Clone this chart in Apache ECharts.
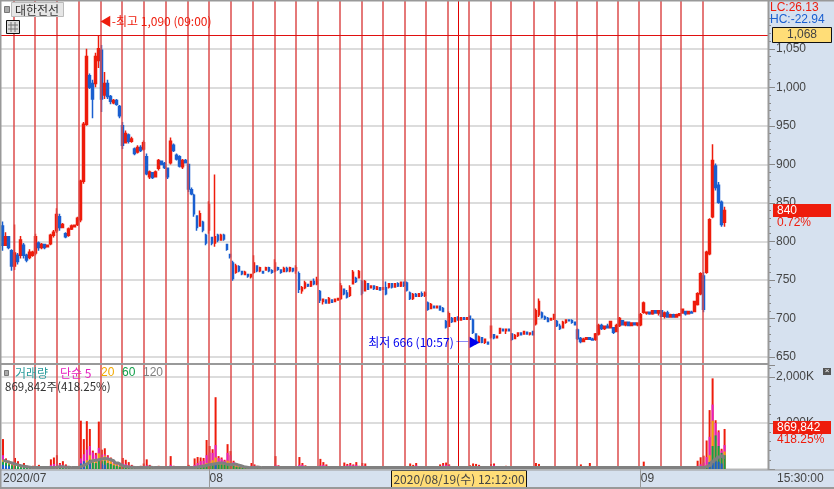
<!DOCTYPE html>
<html>
<head>
<meta charset="utf-8">
<style>
html, body { margin: 0; padding: 0; }
#chart { width: 834px; height: 489px; background: #d6e1ef; }
</style>
<script src="https://cdn.jsdelivr.net/npm/echarts@6/dist/echarts.min.js"></script>
</head>
<body>
<div id="chart"></div>
<script>
// candles, one row = 10 bars
var opens = [
	820,795,806,788,768,782,782,795,782,779,
	782,785,798,792,796,793,797,808,814,832,
	818,810,808,816,819,822,828,878,952,1015,
	1005,1005,1035,1048,990,1005,988,980,983,975,
	950,928,938,930,920,916,922,920,910,884,
	889,884,895,904,901,895,902,925,912,910,
	897,905,900,867,860,833,820,825,808,815,
	805,798,808,802,808,796,783,772,760,767,
	761,757,757,754,760,768,762,761,763,766,
	762,762,766,763,761,765,762,765,762,758,
	736,740,744,742,748,745,735,722,724,720,
	724,722,724,726,738,733,730,745,752,753,
	748,736,745,740,742,738,740,738,740,741,
	745,741,745,742,747,746,733,726,731,729,
	732,730,720,713,716,714,716,713,696,690,
	700,696,701,698,701,699,703,698,680,669,
	675,669,669,676,679,675,681,686,684,686,
	680,674,678,681,680,682,680,683,693,705,
	707,702,700,698,700,696,690,688,695,698,
	697,695,685,674,670,673,675,673,673,680,
	691,687,690,688,688,683,691,697,692,695,
	691,694,692,692,708,707,708,706,710,707,
	710,703,707,702,705,702,704,707,709,706,
	708,709,718,732,755,760,784,832,898,873,
	851,825
];
var closes = [
	795,806,792,768,785,774,802,782,776,786,
	786,806,792,796,792,795,808,812,835,818,
	822,806,816,820,821,830,878,952,1040,1000,
	985,1040,1050,985,1005,988,982,983,978,963,
	925,940,930,933,914,922,918,928,888,890,
	883,890,905,900,896,884,930,918,907,898,
	905,902,868,862,836,818,836,815,798,848,
	798,806,802,808,803,790,780,752,768,762,
	758,760,755,757,772,762,766,759,766,762,
	760,772,764,760,765,762,766,762,766,738,
	740,746,742,748,745,750,724,725,720,726,
	721,725,726,742,732,728,740,760,748,761,
	733,748,738,742,739,741,737,740,732,745,
	741,745,742,747,743,737,726,731,729,732,
	730,733,712,718,714,716,711,709,689,706,
	696,701,698,701,699,701,699,682,668,676,
	669,673,667,690,675,677,687,684,686,684,
	673,678,681,679,683,680,681,679,710,722,
	702,700,696,700,705,691,687,695,698,697,
	695,692,674,670,673,675,673,672,680,691,
	687,690,688,696,682,691,700,692,695,691,
	694,692,694,705,720,708,706,710,707,710,
	703,707,702,705,702,705,706,712,706,709,
	707,722,732,758,712,786,828,905,870,851,
	822,840
];
var lows = [
	788,794,790,762,763,770,778,778,773,777,
	780,782,788,790,790,792,795,805,811,814,
	817,804,806,815,818,820,825,875,950,998,
	960,1000,1025,968,985,985,978,978,976,960,
	920,929,927,928,912,914,916,918,886,881,
	881,883,892,899,894,881,900,916,905,896,
	894,901,864,860,832,814,827,812,795,810,
	795,793,799,801,801,788,778,749,758,760,
	756,756,753,752,758,760,760,758,762,760,
	758,760,762,758,760,760,760,760,758,733,
	732,738,741,741,743,743,720,718,719,719,
	720,722,723,724,730,726,728,744,746,752,
	730,735,737,739,737,737,736,737,730,739,
	739,741,741,741,741,735,724,724,728,728,
	728,728,710,713,713,713,710,708,687,689,
	694,696,697,697,698,698,698,680,666,668,
	668,667,666,674,673,674,680,683,680,683,
	671,673,676,678,680,679,678,678,691,702,
	700,698,695,697,698,689,685,691,693,696,
	693,691,672,668,669,672,673,671,671,678,
	685,685,687,687,680,682,689,691,690,690,
	690,691,690,690,706,705,705,705,706,704,
	702,700,701,701,701,702,703,706,704,706,
	706,708,717,730,708,758,782,830,866,849,
	819,819
];
var highs = [
	826,812,806,790,822,785,807,798,784,790,
	788,810,800,798,796,796,810,815,843,836,
	824,812,818,822,822,832,880,955,1050,1018,
	1010,1045,1068,1055,1020,1010,990,985,985,977,
	955,944,940,936,922,925,925,931,914,892,
	890,892,907,905,903,896,935,927,914,912,
	907,907,900,870,862,834,840,827,810,852,
	806,887,810,810,810,797,784,775,771,769,
	762,762,758,758,782,769,767,762,767,767,
	764,777,767,764,767,767,767,766,769,761,
	742,749,745,749,752,754,737,726,724,728,
	725,726,727,746,739,737,743,763,754,763,
	750,750,746,743,743,742,741,741,748,746,
	746,746,747,748,748,748,735,733,733,733,
	735,735,722,720,717,717,717,715,698,709,
	702,702,703,702,702,702,704,700,680,678,
	676,674,670,691,680,678,688,687,687,687,
	681,680,682,682,684,683,682,684,713,726,
	709,704,702,701,706,698,693,697,699,699,
	699,696,687,676,675,676,675,675,681,693,
	693,691,693,697,689,693,702,698,696,696,
	695,695,695,707,722,709,709,711,711,711,
	711,709,710,706,706,706,707,713,710,710,
	710,723,734,760,760,788,830,926,901,877,
	853,845
];

// volume and its moving averages, in thousands of shares
var volumes = [
	650,230,180,130,240,170,90,130,70,60,
	70,50,90,60,50,40,210,250,300,130,
	170,100,60,40,50,60,1050,650,1040,870,
	400,350,1030,420,450,300,250,180,140,90,
	240,200,150,90,60,50,70,120,210,90,
	50,40,70,40,40,60,280,70,50,60,
	40,40,90,60,230,260,250,240,630,500,
	430,1560,280,250,200,540,390,180,120,90,
	60,50,50,130,100,70,50,40,40,50,
	60,280,80,50,40,40,50,50,60,260,
	130,80,50,40,50,60,220,150,100,60,
	40,50,50,60,140,110,130,100,150,70,
	130,120,60,50,40,40,50,30,30,30,
	40,60,30,30,40,30,120,90,130,60,
	30,20,40,40,50,60,100,130,140,100,
	40,30,30,30,40,50,80,120,110,90,
	60,50,40,110,120,50,40,40,70,40,
	30,60,40,30,40,30,30,40,130,110,
	60,50,50,40,60,30,30,30,40,30,
	30,40,30,100,60,30,130,40,60,50,
	60,50,40,40,50,30,30,40,40,30,
	30,30,30,60,160,60,40,40,30,30,
	30,60,40,40,60,30,30,30,30,30,
	30,50,180,255,290,620,1280,1970,1060,840,
	440,870
];
var ma5 = [
	300,180,150,110,110,90,70,70,50,50,
	50,50,50,40,40,40,90,110,120,100,
	90,70,50,40,40,40,230,320,420,500,
	360,300,460,310,320,270,210,150,110,80,
	120,110,90,70,50,40,50,60,80,70,
	40,40,40,40,30,40,90,60,50,50,
	40,40,50,50,90,130,170,180,300,360,
	350,520,240,220,180,350,300,150,100,80,
	50,40,40,70,70,50,40,40,30,40,
	50,90,70,40,30,30,40,40,50,90,
	90,60,40,30,40,40,80,90,70,50,
	30,40,40,50,70,80,90,80,90,60,
	80,70,50,40,30,30,40,30,20,20,
	30,40,20,20,30,20,50,60,80,50,
	20,20,30,30,40,40,60,80,90,80,
	30,20,20,20,30,40,50,50,60,70,
	50,40,30,70,80,40,30,30,50,30,
	20,40,30,20,30,20,20,30,50,60,
	50,40,40,30,40,20,20,20,30,20,
	20,30,20,50,50,20,50,30,50,40,
	50,40,30,30,40,20,20,30,30,20,
	20,20,20,40,60,50,30,30,20,20,
	20,40,30,30,40,20,20,20,20,20,
	30,40,70,100,140,260,700,1400,1000,800,
	400,520
];
var ma20 = [
	200,170,130,100,90,80,60,50,40,40,
	40,40,40,40,40,40,50,60,70,60,
	70,60,40,30,30,40,90,130,190,300,
	220,200,340,260,290,200,170,120,100,70,
	90,80,70,50,40,30,40,50,60,50,
	30,30,30,30,20,30,60,40,30,30,
	30,30,30,40,60,70,80,100,130,160,
	190,250,160,150,130,180,170,100,70,60,
	40,30,30,40,40,30,30,30,20,30,
	30,50,40,30,20,20,30,30,30,50,
	50,40,30,20,30,30,50,60,50,40,
	20,30,30,30,50,60,60,50,60,40,
	50,50,40,30,20,20,30,20,20,20,
	20,30,20,20,20,20,40,40,50,40,
	20,20,20,20,30,30,50,50,60,50,
	20,20,20,20,20,30,40,40,50,50,
	40,30,20,50,60,30,20,20,40,20,
	20,30,20,20,20,20,20,20,40,50,
	40,30,30,20,30,20,20,20,20,20,
	20,20,20,30,40,20,40,20,40,30,
	40,30,20,20,30,20,20,20,20,20,
	20,20,20,30,40,40,20,20,20,20,
	20,30,20,20,30,20,20,20,20,20,
	20,30,40,50,60,90,300,1050,600,450,
	300,380
];
var ma60 = [
	150,130,100,80,70,60,40,40,30,30,
	30,30,30,30,30,30,30,40,50,40,
	50,40,30,20,20,30,60,80,100,200,
	140,130,220,170,180,130,110,80,70,50,
	60,50,50,30,30,20,30,30,40,30,
	20,20,20,20,20,20,40,30,20,20,
	20,20,20,30,40,50,50,70,80,90,
	100,130,100,100,90,110,110,70,50,40,
	30,20,20,30,30,20,20,20,20,20,
	20,30,30,20,20,20,20,20,20,30,
	30,30,20,20,20,20,30,40,30,30,
	20,20,20,20,30,40,40,30,40,30,
	30,30,30,20,20,20,20,20,20,20,
	20,20,20,20,20,20,30,30,30,30,
	20,20,20,20,20,20,30,30,40,30,
	20,20,20,20,20,20,30,30,30,30,
	30,20,20,30,40,20,20,20,30,20,
	20,20,20,20,20,20,20,20,30,30,
	30,20,20,20,20,20,20,20,20,20,
	20,20,20,20,30,20,30,20,30,20,
	30,20,20,20,20,20,20,20,20,20,
	20,20,20,20,30,30,20,20,20,20,
	20,20,20,20,20,20,20,20,20,20,
	20,20,30,40,40,60,150,500,730,500,
	350,300
];
var ma120 = [
	190,170,150,130,110,90,70,60,50,40,
	30,30,30,30,30,30,30,30,40,50,
	50,40,40,30,30,30,50,80,110,150,
	180,190,200,220,230,220,200,180,130,90,
	60,50,40,40,30,30,30,30,40,40,
	30,30,30,30,30,30,30,30,30,30,
	30,30,30,30,40,50,60,70,90,100,
	110,120,130,130,110,100,100,110,90,70,
	50,40,30,30,40,40,30,30,30,30,
	30,30,30,30,30,30,30,30,30,30,
	30,30,30,30,30,30,30,30,30,30,
	30,30,30,30,30,30,30,30,30,30,
	30,30,30,30,30,30,30,30,30,30,
	30,30,30,30,30,30,30,30,30,30,
	30,30,30,30,30,30,30,30,30,30,
	30,30,30,30,30,30,30,30,30,30,
	30,30,30,30,30,30,30,30,30,30,
	30,30,30,30,30,30,30,30,30,30,
	30,30,30,30,30,30,30,30,30,30,
	30,30,30,30,30,30,30,30,30,30,
	30,30,30,30,30,30,30,30,30,30,
	30,30,30,30,30,30,30,30,30,30,
	30,30,30,30,30,30,30,30,30,30,
	30,30,30,30,40,60,90,160,210,260,
	300,250
];
// [bar, volume] where the blue falling volume shows through
var downVolumes = [[0,90],[1,70],[2,60],[26,120],[27,170],[29,160],[33,120],[34,90],[63,60],[71,90],[236,150],[237,180],[238,170],[239,160],[240,120]];

// session separators, in bar units
var dayLines = [4.3,11.3,18.7,26,33.3,40.3,47.7,55,62.3,69.3,76.7,84,91.3,98.3,105.7,113,120.3,127.3,134.7,141.7,149,156,163.3,170.3,177.7,184.7,192,199,206,213,220.3,227,234.3];
var cursorBar = 152.7;
var cursorPrice = 1068;
var monthLabels = { 0: '2020/07', 69: '08', 213: '09' };

var KR = '"Noto Sans CJK KR", sans-serif';
var NUM = '"Liberation Sans", sans-serif';
var slots = [];
for (var s = 0; s < 256; s++) slots.push(s);

function comma(v) {
	return String(v).replace(/\B(?=(\d{3})+$)/g, ',');
}

function label(x, y, text, color, font, size, align) {
	return {
		type: 'text', z: 120, silent: true, x: x, y: y,
		style: { text: text, fill: color, font: size + 'px ' + font, textAlign: align || 'left', textVerticalAlign: 'middle' }
	};
}

function box(x, y, w, h, fill, stroke) {
	return {
		type: 'rect', z: 110, silent: true,
		shape: { x: x, y: y, width: w, height: h },
		style: { fill: fill, stroke: stroke || null, lineWidth: stroke ? 1 : 0 }
	};
}

function rule(x1, y1, x2, y2, color, width) {
	return {
		type: 'line', z: 115, silent: true,
		shape: { x1: x1, y1: y1, x2: x2, y2: y2 },
		style: { stroke: color, lineWidth: width || 1 }
	};
}

function volBar(name, data, color) {
	return {
		name: name, type: 'bar', xAxisIndex: 1, yAxisIndex: 1, data: data, z: 3,
		barWidth: 2, barGap: '-100%', itemStyle: { color: color }
	};
}

var option = {
	animation: false,
	grid: [
		{ left: 1, width: 767, top: 18, height: 339 },
		{ left: 1, width: 767, top: 365, height: 104 },
		{ left: 1, width: 767, top: 1, height: 468, show: true, backgroundColor: '#fff', borderWidth: 0 }
	],
	xAxis: [
		{ type: 'category', gridIndex: 0, data: slots, show: false },
		{
			type: 'category', gridIndex: 1, data: slots,
			axisLine: { show: false },
			axisTick: {
				show: true, alignWithLabel: true, length: 18, lineStyle: { color: '#999' },
				interval: function(i) { return i > 0 && monthLabels[i] !== undefined; }
			},
			axisLabel: {
				interval: function(i) { return monthLabels[i] !== undefined; },
				formatter: function(v) { return monthLabels[v] || ''; },
				align: 'left', margin: 4, color: '#444', fontFamily: NUM, fontSize: 12
			}
		},
		{ type: 'value', gridIndex: 2, min: 0, max: 256, show: false }
	],
	yAxis: [
		{
			type: 'value', gridIndex: 0, position: 'right', min: 650, max: 1090, interval: 50, scale: true,
			axisLine: { show: false },
			axisTick: { show: true, length: 7, lineStyle: { color: '#888' } },
			minorTick: { show: true, splitNumber: 5, length: 3, lineStyle: { color: '#888' } },
			splitLine: { show: true, showMaxLine: false, lineStyle: { color: '#d0d0d0', width: 1.5 } },
			axisLabel: {
				margin: 8, color: '#444', fontFamily: NUM, fontSize: 12,
				formatter: function(v) { return v > 1050 ? '' : comma(v); }
			}
		},
		{
			type: 'value', gridIndex: 1, position: 'right', min: 0, max: 2260, interval: 1000,
			axisLine: { show: false },
			axisTick: { show: true, length: 7, lineStyle: { color: '#888' } },
			minorTick: { show: true, splitNumber: 5, length: 3, lineStyle: { color: '#888' } },
			splitLine: { show: true, showMaxLine: false, lineStyle: { color: '#d0d0d0', width: 1.5 } },
			axisLabel: {
				margin: 8, color: '#444', fontFamily: NUM, fontSize: 12,
				formatter: function(v) { return (v === 1000 || v === 2000) ? comma(v) + 'K' : ''; }
			}
		},
		{ type: 'value', gridIndex: 2, min: 0, max: 1, show: false }
	],
	series: [
		{
			name: 'days', type: 'line', xAxisIndex: 2, yAxisIndex: 2, data: [], z: 1,
			markLine: {
				silent: true, symbol: 'none', label: { show: false }, animation: false,
				data: dayLines.map(function(d) {
					return { xAxis: d, lineStyle: { color: '#dd4c4c', width: 1.5, type: 'solid' } };
				}).concat([{ xAxis: cursorBar, lineStyle: { color: '#e00000', width: 1, type: 'solid' } }])
			}
		},
		{
			name: '대한전선', type: 'candlestick', xAxisIndex: 0, yAxisIndex: 0, z: 3, barWidth: 2,
			data: opens.map(function(o, i) { return [o, closes[i], lows[i], highs[i]]; }),
			itemStyle: { color: '#ee1c0c', color0: '#1a5fd0', borderColor: '#ee1c0c', borderColor0: '#1a5fd0', borderWidth: 1.5 },
			markLine: {
				silent: true, symbol: 'none', label: { show: false }, animation: false,
				data: [{ yAxis: cursorPrice, lineStyle: { color: '#e01010', width: 1, type: 'solid' } }]
			},
			markPoint: {
				silent: true, animation: false, symbol: 'circle', symbolSize: 1, itemStyle: { color: 'transparent', borderColor: 'transparent' },
				data: [
					{
						coord: [33, 1086],
						label: { show: true, position: 'right', distance: -3, formatter: '◀-최고 1,090 (09:00)', color: '#ee1c0c', fontFamily: KR, fontSize: 12 }
					},
					{
						coord: [160, 669],
						label: { show: true, position: 'left', distance: 0, formatter: '최저 666 (10:57) ─▶', color: '#0000ee', fontFamily: KR, fontSize: 12 }
					}
				]
			}
		},
		volBar('거래량', volumes, '#ee1c0c'),
		volBar('5', ma5, '#e61fc0'),
		volBar('20', ma20, '#f2a900'),
		volBar('60', ma60, '#12a04a'),
		volBar('down', downVolumes, '#1a5fd0'),
		{
			name: '120', type: 'line', xAxisIndex: 1, yAxisIndex: 1, data: ma120, z: 6, step: 'middle',
			symbol: 'none', lineStyle: { color: '#808080', width: 3 }
		}
	],
	graphic: [
		// frame
		rule(0.5, 0, 0.5, 489, '#999', 2),
		rule(0, 0.5, 834, 0.5, '#999', 2),
		rule(0, 488, 834, 488, '#999', 2),
		rule(768.5, 0, 768.5, 470, '#999', 2),
		rule(1, 364, 768, 364, '#999', 2),
		rule(1, 470, 834, 470, '#999', 1),
		// title
		box(4.5, 6.5, 5, 6, '#aaa', '#777'),
		box(11.5, 2.5, 52, 14, '#e6e6e6', '#bbb'),
		label(15, 10, '대한전선', '#333', KR, 12),
		box(6.5, 20.5, 13, 13, '#ddd', '#111'),
		rule(11, 22, 11, 32, '#777'), rule(15, 22, 15, 32, '#777'), rule(8, 25, 18, 25, '#777'), rule(8, 29, 18, 29, '#777'),
		// upper right
		label(770, 8, 'LC:26.13', '#ee1c0c', NUM, 12),
		label(770, 20, 'HC:-22.94', '#1a5fd0', NUM, 12),
		box(772.5, 27.5, 59, 15, '#ffdd77', '#111'),
		label(802, 35, '1,068', '#444', NUM, 12, 'center'),
		box(773, 204, 58, 13, '#ee1c0c'),
		label(777, 211, '840', '#fff', NUM, 12),
		label(777, 223, '0.72%', '#ee1c0c', NUM, 12),
		// volume legend
		box(4.5, 370.5, 4, 5, '#aaa', '#777'),
		label(15, 373, '거래량', '#2a9d9d', KR, 12),
		label(60, 373, '단순 5', '#e61fc0', KR, 12),
		label(101, 373, '20', '#f2a900', NUM, 12),
		label(122, 373, '60', '#12a04a', NUM, 12),
		label(143, 373, '120', '#808080', NUM, 12),
		label(5, 387, '869,842주(418.25%)', '#333', KR, 11.5),
		// volume tag
		box(773, 421, 58, 13, '#ee1c0c'),
		label(777, 428, '869,842', '#fff', NUM, 12),
		label(777, 440, '418.25%', '#ee1c0c', NUM, 12),
		box(823, 368, 8, 7, '#555'),
		label(827, 371, '×', '#fff', NUM, 8, 'center'),
		// bottom strip
		box(391.5, 470.5, 135, 17, '#ffdd77', '#111'),
		label(459, 479, '2020/08/19(수) 12:12:00', '#444', KR, 12, 'center'),
		label(777, 479, '15:30:00', '#444', NUM, 12)
	]
};

echarts.init(document.getElementById('chart'), null, { renderer: 'canvas' }).setOption(option);
</script>
</body>
</html>
